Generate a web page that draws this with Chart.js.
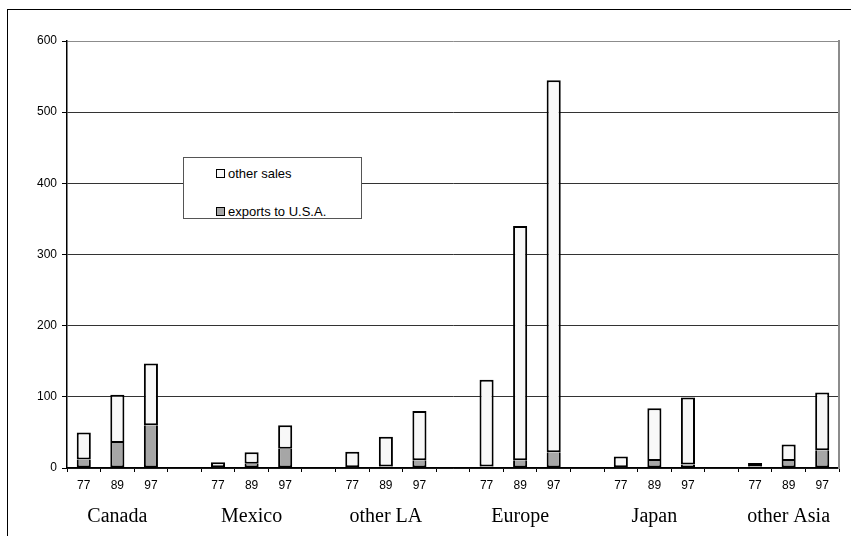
<!DOCTYPE html>
<html>
  <head>
    <title>Sales by region</title>
    <script src="https://cdn.jsdelivr.net/npm/chart.js"></script>
    <style>
      body {
        margin: 0;
        background-color: #ffffff;
        overflow: hidden;
      }

      .frame {
        position: absolute;
        left: 7px;
        top: 9px;
        width: 900px;
        height: 600px;
        border-left: 1.5px solid #000000;
        border-top: 1.5px solid #000000;
      }

      #myChart {
        position: absolute;
        left: 0;
        top: 0;
      }

      .legend-box {
        position: absolute;
        left: 183px;
        top: 157px;
        width: 177px;
        height: 60px;
        background-color: #ffffff;
        border: 1px solid #555555;
        font-family: "Liberation Sans", Arial, sans-serif;
        font-size: 13px;
        color: #000000;
      }

      .legend-item {
        position: absolute;
        left: 32px;
        display: flex;
        align-items: center;
      }

      .legend-swatch {
        width: 7px;
        height: 7px;
        border: 1.5px solid #000000;
        margin-right: 3px;
      }
    </style>
  </head>
  <body>
    <div class="frame"></div>
    <canvas id="myChart" width="851" height="536"></canvas>
    <div class="legend-box" id="legend"></div>

    <script>
      // one slot per bar, empty slots separate the regions
      var yearLabels = [
        "77", "89", "97", "",
        "77", "89", "97", "",
        "77", "89", "97", "",
        "77", "89", "97", "",
        "77", "89", "97", "",
        "77", "89", "97"
      ];
      var regionLabels = [
        "", "Canada", "", "",
        "", "Mexico", "", "",
        "", "other LA", "", "",
        "", "Europe", "", "",
        "", "Japan", "", "",
        "", "other Asia", ""
      ];
      var exportsToUSA = [
        12, 35, 60, null,
        1, 6, 27, null,
        1, 2, 11, null,
        2, 11, 22, null,
        1, 10, 5, null,
        2, 10, 25
      ];
      var otherSales = [
        38, 68, 87, null,
        7, 16, 33, null,
        22, 42, 69, null,
        122, 329, 523, null,
        15, 74, 94, null,
        5, 23, 81
      ];
      var yTicks = [0, 100, 200, 300, 400, 500, 600];

      var tickFont = { family: "'Liberation Sans', Arial, sans-serif", size: 12 };

      var ctx = document.getElementById("myChart").getContext("2d");
      var myChart = new Chart(ctx, {
        type: "bar",
        data: {
          labels: yearLabels,
          datasets: [
            {
              label: "exports to U.S.A.",
              data: exportsToUSA,
              backgroundColor: "#a6a6a6",
              borderColor: "#000000",
              borderWidth: 2,
              borderSkipped: "top",  // the white segment above draws the divider
            },
            {
              label: "other sales",
              data: otherSales,
              backgroundColor: "#f8f8f8",
              borderColor: "#000000",
              borderWidth: 2,
              borderSkipped: false,
            },
          ],
        },
        options: {
          responsive: false,
          animation: false,
          layout: {
            padding: { top: 41, right: 12, bottom: 9, left: 0 },
          },
          plugins: {
            legend: { display: false },
            tooltip: { enabled: false },
          },
          datasets: {
            bar: { categoryPercentage: 1, barPercentage: 0.42 },
          },
          scales: {
            x: {
              stacked: true,
              grid: {
                offset: true,
                drawOnChartArea: false,
                tickLength: 4,
                color: "#000000",
              },
              border: { color: "#000000", width: 1.5 },
              ticks: {
                color: "#000000",
                font: tickFont,
                padding: 6,
                autoSkip: false,
                maxRotation: 0,
              },
              afterFit: function (scale) { scale.height = 28; },
            },
            x2: {
              type: "category",
              labels: regionLabels,
              position: "bottom",
              grid: { display: false, drawTicks: false },
              border: { display: false },
              ticks: {
                color: "#000000",
                font: { family: "'Liberation Serif', 'Times New Roman', serif", size: 20 },
                padding: 9,
                autoSkip: false,
                maxRotation: 0,
              },
              afterFit: function (scale) { scale.height = 31; },
            },
            y: {
              stacked: true,
              min: 0,
              max: 600,
              afterBuildTicks: function (scale) {
                scale.ticks = yTicks.map(function (v) { return { value: v }; });
              },
              grid: {
                color: function (c) {
                  return c.tick && c.tick.value === 600 ? "#8c8c8c" : "#333333";
                },
                tickColor: "#000000",
                tickLength: 5,
              },
              border: { color: "#000000", width: 1.5 },
              ticks: {
                color: "#000000",
                font: tickFont,
                padding: 5,
              },
              afterFit: function (scale) { scale.width = 67; },
            },
            yRight: {
              position: "right",
              min: 0,
              max: 600,
              grid: { display: false, drawTicks: false },
              ticks: { display: false },
              border: { color: "#8c8c8c", width: 2 },
              afterFit: function (scale) { scale.width = 0; },
            },
          },
        },
      });

      // legend is a plain html box laid over the plot, top entry first
      var legend = document.getElementById("legend");
      myChart.data.datasets.slice().reverse().forEach(function (ds, i) {
        var item = document.createElement("div");
        item.className = "legend-item";
        item.style.top = (i === 0 ? 8 : 46) + "px";
        var swatch = document.createElement("span");
        swatch.className = "legend-swatch";
        swatch.style.backgroundColor = ds.backgroundColor;
        var text = document.createElement("span");
        text.textContent = ds.label;
        item.appendChild(swatch);
        item.appendChild(text);
        legend.appendChild(item);
      });
    </script>
  </body>
</html>
